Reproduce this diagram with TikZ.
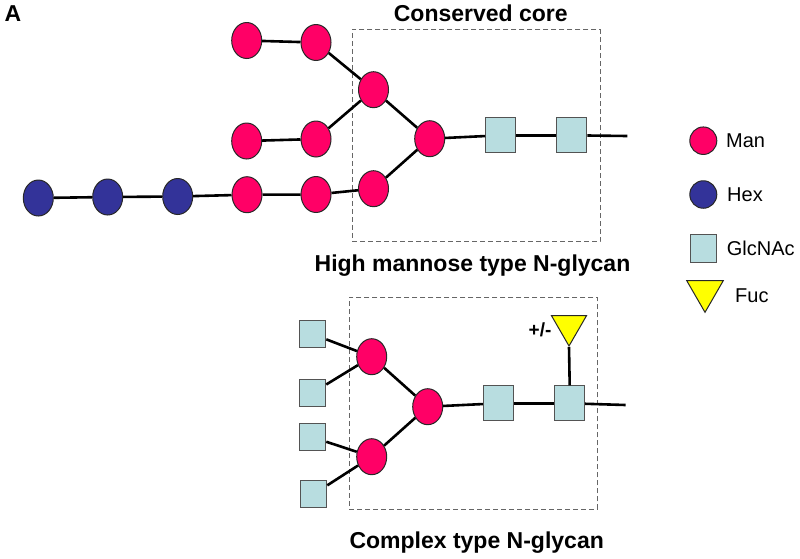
\documentclass[tikz,border=0pt]{standalone}
\usepackage{fontspec}
\setmainfont{Liberation Sans}
\usetikzlibrary{shapes.geometric}
\definecolor{manc}{RGB}{255,0,102}
\definecolor{hexc}{RGB}{51,51,153}
\definecolor{glcc}{RGB}{184,221,224}
\definecolor{fucc}{RGB}{255,255,0}
\definecolor{edgec}{RGB}{40,40,40}
\tikzset{
  man/.style={ellipse, draw=edgec, line width=1pt, fill=manc, minimum width=30pt, minimum height=36pt, inner sep=0pt},
  hexs/.style={ellipse, draw=edgec, line width=1pt, fill=hexc, minimum width=30pt, minimum height=36pt, inner sep=0pt},
  glc/.style={rectangle, draw=edgec!80, line width=1pt, fill=glcc, minimum width=30pt, minimum height=35pt, inner sep=0pt},
  glcsmall/.style={glc, minimum width=26pt, minimum height=27pt},
  fuc/.style={regular polygon, regular polygon sides=3, shape border rotate=180, draw=edgec, line width=1pt, fill=fucc, minimum size=40.4pt, inner sep=0pt},
  link/.style={line width=2.6pt, black},
  corebox/.style={rectangle, draw=black!60, dash pattern=on 5pt off 3pt, line width=1pt, inner sep=0pt},
  title/.style={font=\fontsize{23}{26}\selectfont\bfseries, inner sep=0pt},
  legtext/.style={font=\fontsize{20}{24}\selectfont, anchor=west, inner sep=0pt},
}
\begin{document}
\begin{tikzpicture}[x=1pt, y=-1pt]
\useasboundingbox (0,0) rectangle (800,558);
% dashed boxes
\node[corebox, minimum width=248pt, minimum height=212.4pt] (box1) at (476,135.5) {};
\node[corebox, minimum width=248pt, minimum height=212pt] (box2) at (473.3,403.3) {};
% titles
\node[font=\fontsize{23}{26}\selectfont\bfseries, inner sep=0pt] (lblA) at (13,14) {A};
\node[title] (t1) at (480.8,13.5) {Conserved core};
\node[title] (t2) at (472.5,266) {High mannose type N-glycan};
\node[title] (t3) at (476.7,543) {Complex type N-glycan};
% high mannose
\node[man] (m1) at (246.7,40.5) {};
\node[man] (m2) at (316,42.5) {};
\node[man] (m3) at (246.7,141) {};
\node[man] (m4) at (316,139) {};
\node[hexs] (h1) at (38.3,198) {};
\node[hexs] (h2) at (107.7,197) {};
\node[hexs] (h3) at (177.7,196.5) {};
\node[man] (m5) at (247,194.7) {};
\node[man] (m6) at (316,194.5) {};
\node[man] (c1) at (373.5,89.7) {};
\node[man] (c2) at (373.5,188.7) {};
\node[man] (c3) at (429.7,138.7) {};
\node[glc] (g1) at (500.7,135.3) {};
\node[glc] (g2) at (571.8,135.3) {};
\coordinate (e1) at (627.3,136);
\draw[link] (m1) -- (m2);
\draw[link] (m3) -- (m4);
\draw[link] (h1) -- (h2);
\draw[link] (h2) -- (h3);
\draw[link] (h3) -- (m5);
\draw[link] (m5) -- (m6);
\draw[link] (m6) -- (c2);
\draw[link] (m2) -- (c1);
\draw[link] (m4) -- (c1);
\draw[link] (c1) -- (c3);
\draw[link] (c2) -- (c3);
\draw[link] (c3) -- (g1);
\draw[link] (g1) -- (g2);
\draw[link] (g2) -- (e1);
% complex
\node[glcsmall] (s1) at (312.8,334.2) {};
\node[glcsmall] (s2) at (312.8,392.7) {};
\node[glcsmall] (s3) at (312.8,437.3) {};
\node[glcsmall] (s4) at (313.8,494) {};
\node[man] (k1) at (371.7,356.7) {};
\node[man] (k2) at (371.7,456.7) {};
\node[man] (k3) at (427.7,406.7) {};
\node[glc] (k4) at (498.3,403.3) {};
\node[glc] (k5) at (569.7,403.3) {};
\node[fuc] (f1) at (569,325.8) {};
\node[font=\fontsize{19}{22}\selectfont\bfseries, inner sep=0pt] (pm) at (540,330) {+/-};
\coordinate (e2) at (625.7,405);
\draw[link] (s1) -- (k1);
\draw[link] (s2) -- (k1);
\draw[link] (s3) -- (k2);
\draw[link] (s4) -- (k2);
\draw[link] (k1) -- (k3);
\draw[link] (k2) -- (k3);
\draw[link] (k3) -- (k4);
\draw[link] (k4) -- (k5);
\draw[link] (k5) -- (e2);
\draw[link] (f1.south) -- (k5.north);
% legend
\node[man, minimum width=27pt, minimum height=27.5pt] (lm) at (703.3,140.7) {};
\node[hexs, minimum width=27pt, minimum height=27.5pt] (lh) at (703.3,194.5) {};
\node[glc, minimum width=26pt, minimum height=28pt] (lg) at (703.3,248.8) {};
\node[fuc, minimum size=42.4pt] (lf) at (705,291.1) {};
\node[legtext] (tm) at (726,140.7) {Man};
\node[legtext] (th) at (727,194.5) {Hex};
\node[legtext] (tg) at (726.7,248.8) {GlcNAc};
\node[legtext] (tf) at (735,296) {Fuc};
\end{tikzpicture}
\end{document}
